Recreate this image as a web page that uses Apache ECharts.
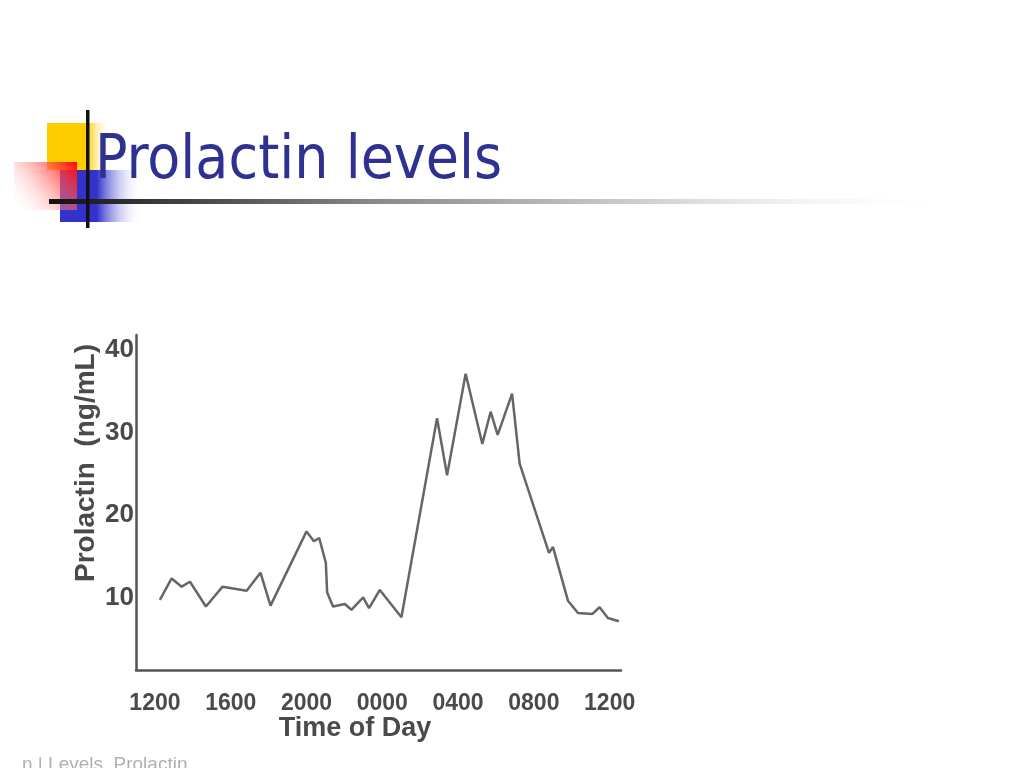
<!DOCTYPE html>
<html>
<head>
<meta charset="utf-8">
<script src="https://cdn.jsdelivr.net/npm/echarts@6/dist/echarts.min.js"></script>
<style>
html,body{margin:0;padding:0;background:#fff;}
#chart{width:1024px;height:768px;}
</style>
</head>
<body>
<div id="chart"></div>
<script>
// Time of day in hours from noon (12 = 1200, 24 = 0000, 36 = 1200 next day)
const hours = [12.26,12.88,13.41,13.85,14.69,15.57,16.84,17.57,18.10,20.00,20.39,20.67,21.02,21.09,21.40,22.02,22.37,22.99,23.30,23.87,25.01,26.89,27.42,28.40,29.28,29.72,30.09,30.85,31.25,32.80,33.01,33.80,34.33,35.09,35.47,35.91,36.49];
// Prolactin (ng/mL)
const prolactin = [9.7,12.3,11.3,11.9,8.9,11.3,10.8,13.0,9.0,18.0,16.8,17.2,14.2,10.6,8.9,9.2,8.5,10.0,8.7,10.9,7.6,31.7,24.8,37.1,28.6,32.5,29.7,34.7,26.2,15.4,16.1,9.6,8.1,8.0,8.8,7.5,7.1];
const xTickValues = [12,16,20,24,28,32,36];
const xTickLabels = ['1200','1600','2000','0000','0400','0800','1200'];
const yTickValues = [10,20,30,40];

const seriesData = hours.map((h,i)=>[h, prolactin[i]]);

const chart = echarts.init(document.getElementById('chart'));
const axisColor = '#555';
const labelFont = 'Liberation Sans, Arial, sans-serif';
chart.setOption({
  backgroundColor:'#ffffff',
  animation:false,
  grid:{left:136, right:403, top:335, bottom:98},
  xAxis:{
    type:'value', min:11.0, max:36.6,
    splitLine:{show:false},
    axisLine:{show:true, onZero:false, lineStyle:{color:axisColor, width:2.5}},
    axisTick:{show:false},
    axisLabel:{
      customValues:xTickValues,
      formatter:(v)=>{const i=xTickValues.indexOf(v);return i>=0?xTickLabels[i]:'';},
      margin:22, fontSize:23, fontWeight:'bold', color:'#4a4a4a',
      fontFamily:labelFont
    }
  },
  yAxis:{
    type:'value', min:1.2, max:41.8,
    splitLine:{show:false},
    axisLine:{show:true, onZero:false, lineStyle:{color:axisColor, width:2.5}},
    axisTick:{show:false},
    axisLabel:{
      customValues:yTickValues,
      margin:2, fontSize:26, fontWeight:'bold', color:'#4a4a4a',
      fontFamily:labelFont
    }
  },
  series:[{
    type:'line', data:seriesData, symbol:'none',
    lineStyle:{color:'#666', width:2.5}
  }],
  graphic:[
    {type:'rect', shape:{x:47,y:123,width:64,height:47}, style:{fill:new echarts.graphic.LinearGradient(0,0,1,0,[{offset:0,color:'#FFCC00'},{offset:0.62,color:'#FFCC00'},{offset:1,color:'rgba(255,255,255,0)'}])}, z:1},
    {type:'rect', shape:{x:60,y:170,width:82,height:52}, style:{fill:new echarts.graphic.LinearGradient(0,0,1,0,[{offset:0,color:'#3333CC'},{offset:0.45,color:'#3333CC'},{offset:1,color:'rgba(255,255,255,0)'}])}, z:2},
    {type:'rect', shape:{x:14,y:162,width:63,height:48}, style:{fill:new echarts.graphic.LinearGradient(1,0,0,1,[{offset:0,color:'#FF0000'},{offset:1,color:'rgba(255,255,255,0)'}])}, z:3},
    {type:'rect', shape:{x:49,y:199,width:915,height:5}, style:{fill:new echarts.graphic.LinearGradient(0,0,1,0,[{offset:0,color:'#111'},{offset:0.36,color:'#8a8a8a'},{offset:0.72,color:'#e0e0e0'},{offset:1,color:'rgba(255,255,255,0)'}])}, z:4},
    {type:'rect', shape:{x:86,y:110,width:3.5,height:118}, style:{fill:'#111'}, z:5},
    {type:'text', x:95, y:132, style:{text:'Prolactin levels', fontSize:60, fill:'#2f3192', fontFamily:'DejaVu Sans Condensed, Liberation Sans, sans-serif'}, z:6},
    {type:'text', x:72, y:463, rotation:Math.PI/2, style:{text:'Prolactin  (ng/mL)', fontSize:28, fontWeight:'bold', fill:'#4a4a4a', align:'center', verticalAlign:'top', fontFamily:labelFont}, z:6},
    {type:'text', x:355, y:715, style:{text:'Time of Day', fontSize:27, fontWeight:'bold', fill:'#4a4a4a', align:'center', verticalAlign:'top', fontFamily:labelFont}, z:6},
    {type:'text', x:22, y:755, style:{text:'n | Levels. Prolactin', fontSize:19, fill:'#b0b0b0', fontFamily:labelFont}, z:6}
  ]
});
</script>
</body>
</html>
